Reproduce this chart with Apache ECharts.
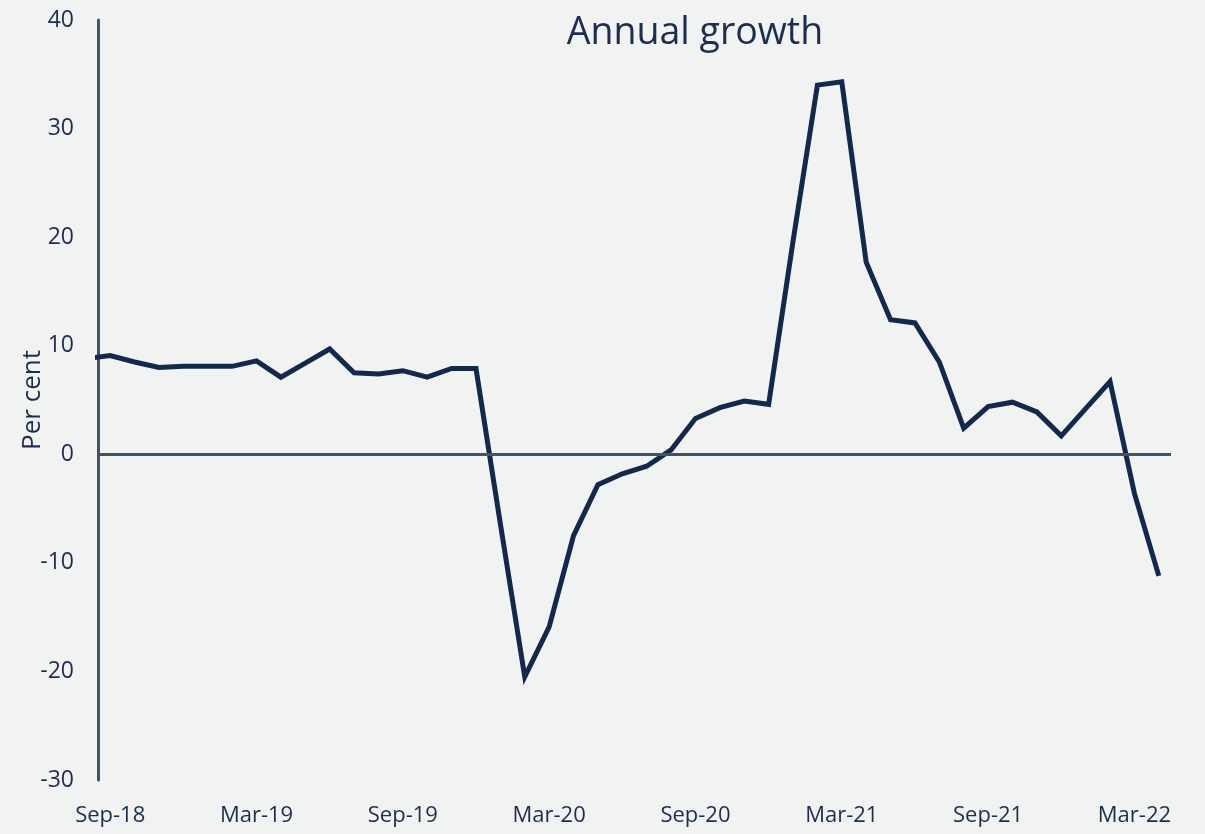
<!DOCTYPE html>
<html>
<head>
<meta charset="utf-8">
<script src="https://cdn.jsdelivr.net/npm/echarts@6/dist/echarts.min.js"></script>
<style>
  html, body { margin: 0; padding: 0; background: #f1f2f2; }
  #chart { width: 1205px; height: 834px; }
</style>
</head>
<body>
<div id="chart"></div>
<script>
// monthly, Aug-18 sits just left of the plot and is clipped away
const months = ['Aug-18',
  'Sep-18', 'Oct-18', 'Nov-18', 'Dec-18', 'Jan-19', 'Feb-19', 'Mar-19', 'Apr-19', 'May-19', 'Jun-19', 'Jul-19', 'Aug-19',
  'Sep-19', 'Oct-19', 'Nov-19', 'Dec-19', 'Jan-20', 'Feb-20', 'Mar-20', 'Apr-20', 'May-20', 'Jun-20', 'Jul-20', 'Aug-20',
  'Sep-20', 'Oct-20', 'Nov-20', 'Dec-20', 'Jan-21', 'Feb-21', 'Mar-21', 'Apr-21', 'May-21', 'Jun-21', 'Jul-21', 'Aug-21',
  'Sep-21', 'Oct-21', 'Nov-21', 'Dec-21', 'Jan-22', 'Feb-22', 'Mar-22', 'Apr-22']
const growth = [8.8,
  9.1, 8.5, 8.0, 8.1, 8.1, 8.1, 8.6, 7.1, 8.4, 9.7, 7.5, 7.4,
  7.7, 7.1, 7.9, 7.9, -6.4, -20.5, -15.9, -7.5, -2.8, -1.8, -1.1, 0.4,
  3.3, 4.3, 4.9, 4.6, 19.6, 34.0, 34.3, 17.7, 12.4, 12.1, 8.5, 2.4,
  4.4, 4.8, 3.9, 1.7, 4.2, 6.7, -3.6, -11.2]
const labelIdx = [0, 6, 12, 18, 24, 30, 36, 42]
const yTicks = { min: -30, max: 40, step: 10 }

const navy = '#13284b'
const textCol = '#1c2d4f'
const axisCol = '#3f5464'

const chart = echarts.init(document.getElementById('chart'))
chart.setOption({
  backgroundColor: '#f1f2f2',
  animation: false,
  textStyle: { fontFamily: 'Open Sans' },
  title: {
    text: 'Annual growth',
    left: 690, top: 9, textAlign: 'center',
    textStyle: { fontSize: 37.5, fontWeight: 'normal', color: textCol, fontFamily: 'Open Sans' }
  },
  grid: { left: 98, right: 34, top: 20, bottom: 54, outerBoundsMode: 'none' },
  xAxis: {
    type: 'value',
    min: -0.5,
    max: 43.5,
    axisLine: { show: false },
    axisTick: { show: false },
    splitLine: { show: false },
    axisLabel: {
      customValues: labelIdx,
      formatter: v => months[v + 1],
      fontSize: 22, color: textCol, margin: 25
    }
  },
  yAxis: {
    type: 'value',
    min: yTicks.min, max: yTicks.max, interval: yTicks.step,
    name: 'Per cent',
    nameLocation: 'middle',
    nameGap: 52,
    nameMoveOverlap: false,
    nameTextStyle: { fontSize: 26, color: textCol },
    axisLine: { show: true, onZero: false, lineStyle: { color: axisCol, width: 3 } },
    axisTick: { show: false },
    splitLine: { show: false },
    axisLabel: { fontSize: 23, color: textCol, margin: 24 }
  },
  series: [{
    type: 'line',
    data: growth.map((v, i) => [i - 1, v]),
    showSymbol: false,
    clip: true,
    lineStyle: { color: navy, width: 5, join: 'miter' },
    markLine: {
      silent: true,
      symbol: 'none',
      label: { show: false },
      lineStyle: { color: axisCol, width: 3, type: 'solid' },
      data: [{ yAxis: 0 }]
    },
    z: 3
  }]
})
</script>
</body>
</html>
